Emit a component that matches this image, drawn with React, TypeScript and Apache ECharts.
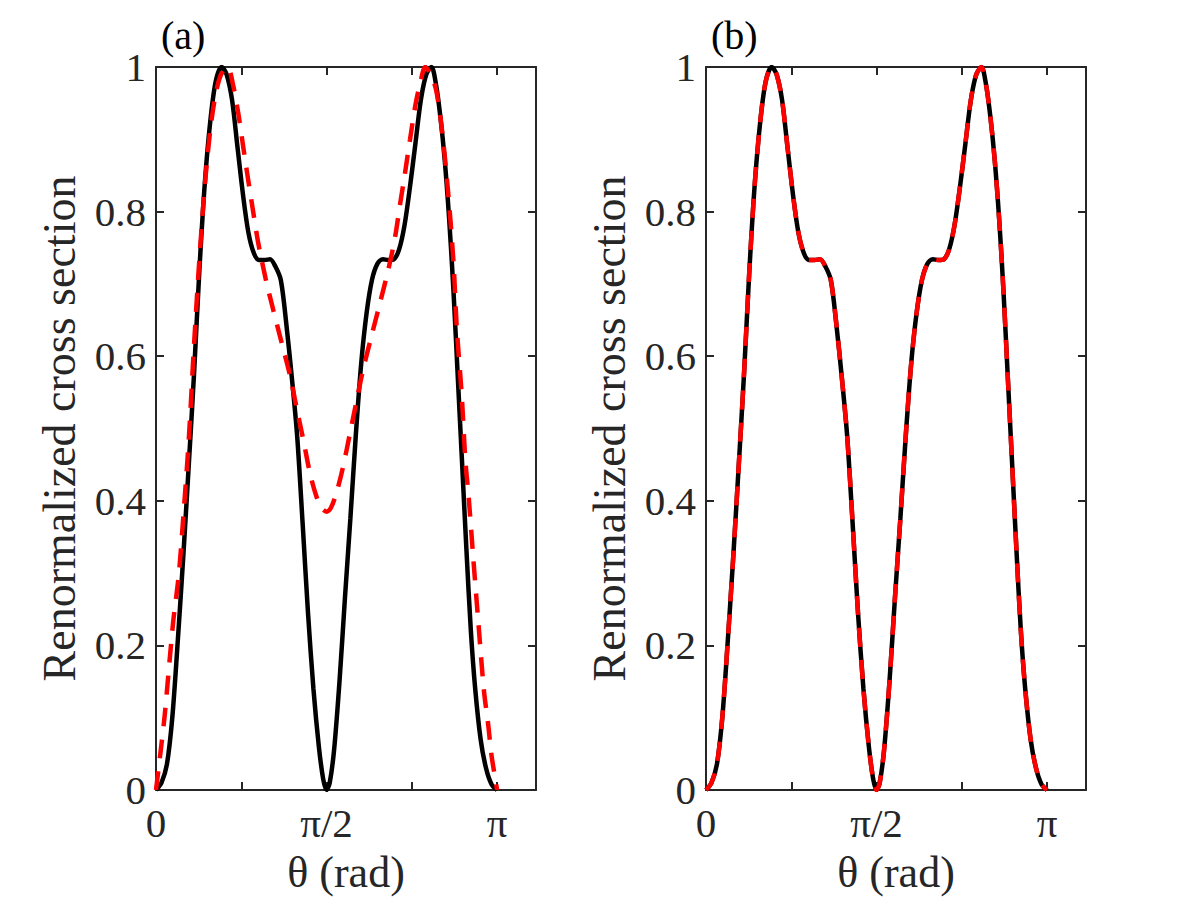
import React, { useEffect, useRef } from "react";
import * as echarts from "echarts";

// θ (rad) and renormalized cross section of the black solid curve (same in both panels)
const blackTheta = [0, 0.05, 0.10, 0.15, 0.20, 0.25, 0.30, 0.35, 0.40, 0.45, 0.50, 0.55, 0.605, 0.65, 0.70, 0.75, 0.80, 0.85, 0.90, 0.95, 1.00, 1.05, 1.10, 1.15, 1.20, 1.25, 1.30, 1.35, 1.40, 1.45, 1.50, 1.54, 1.571, 1.60, 1.64, 1.69, 1.74, 1.79, 1.84, 1.89, 1.94, 1.99, 2.04, 2.09, 2.14, 2.19, 2.24, 2.29, 2.34, 2.39, 2.44, 2.49, 2.537, 2.58, 2.62, 2.66, 2.70, 2.74, 2.78, 2.82, 2.86, 2.90, 2.94, 2.99, 3.04, 3.09, 3.1416];
const blackVal = [0, 0.01, 0.035, 0.10, 0.205, 0.32, 0.445, 0.575, 0.72, 0.84, 0.925, 0.98, 1.0, 0.99, 0.955, 0.89, 0.825, 0.772, 0.743, 0.733, 0.733, 0.734, 0.724, 0.705, 0.645, 0.572, 0.49, 0.37, 0.245, 0.14, 0.06, 0.015, 0, 0.01, 0.055, 0.15, 0.265, 0.375, 0.49, 0.59, 0.66, 0.706, 0.728, 0.734, 0.733, 0.734, 0.748, 0.782, 0.835, 0.895, 0.955, 0.99, 1.0, 0.975, 0.93, 0.87, 0.79, 0.69, 0.57, 0.45, 0.33, 0.22, 0.14, 0.07, 0.03, 0.008, 0];

// red dashed curve of panel (a)
const redATheta = [0, 0.02, 0.05, 0.08, 0.13, 0.16, 0.21, 0.25, 0.30, 0.35, 0.40, 0.45, 0.50, 0.55, 0.60, 0.66, 0.71, 0.76, 0.80, 0.85, 0.90, 0.94, 1.01, 1.08, 1.16, 1.23, 1.30, 1.36, 1.42, 1.48, 1.53, 1.571, 1.61, 1.66, 1.72, 1.79, 1.85, 1.91, 1.99, 2.06, 2.14, 2.20, 2.25, 2.29, 2.34, 2.39, 2.44, 2.48, 2.53, 2.58, 2.63, 2.69, 2.74, 2.77, 2.815, 2.85, 2.88, 2.92, 2.97, 3.02, 3.06, 3.09, 3.12, 3.1416];
const redAVal = [0, 0.025, 0.063, 0.103, 0.187, 0.235, 0.298, 0.375, 0.48, 0.615, 0.735, 0.837, 0.913, 0.963, 0.99, 1.0, 0.975, 0.934, 0.893, 0.843, 0.795, 0.758, 0.707, 0.664, 0.617, 0.576, 0.525, 0.482, 0.437, 0.405, 0.389, 0.385, 0.39, 0.41, 0.445, 0.496, 0.54, 0.583, 0.631, 0.672, 0.72, 0.763, 0.812, 0.85, 0.9, 0.948, 0.982, 1.0, 0.99, 0.968, 0.918, 0.828, 0.73, 0.64, 0.548, 0.455, 0.405, 0.325, 0.23, 0.138, 0.09, 0.048, 0.02, 0];

// red dashed curve of panel (b) coincides with the black curve
const redBTheta = blackTheta;
const redBVal = blackVal;

const xTickValues = [0, Math.PI / 4, Math.PI / 2, (3 * Math.PI) / 4, Math.PI];
const xLabelValues = [0, Math.PI / 2, Math.PI];
const xLabelTexts = ["0", "π/2", "π"];
const panelLabels = ["(a)", "(b)"];

const FONT = "Liberation Serif";
const AX = "#262626";

const pairs = (xs: number[], ys: number[]) => xs.map((x, i) => [x, ys[i]]);

export default function App() {
  const ref = useRef<HTMLDivElement>(null);
  useEffect(() => {
    if (!ref.current) return;
    const chart = echarts.init(ref.current, null, { renderer: "svg" });
    const lefts = [156, 706];
    const grids = lefts.map((l) => ({ left: l, top: 67, width: 380, height: 723, outerBoundsMode: "none" }));
    const xAxes: any[] = [];
    const yAxes: any[] = [];
    lefts.forEach((_, g) => {
      const common = {
        gridIndex: g,
        type: "value",
        min: 0,
        max: 3.5,
        splitLine: { show: false },
        axisLine: { show: true, onZero: false, lineStyle: { color: AX, width: 2 } },
      };
      xAxes.push({
        ...common,
        position: "bottom",
        name: "θ (rad)",
        nameLocation: "middle",
        nameGap: 60,
        nameTextStyle: { fontFamily: FONT, fontSize: 44, color: AX },
        axisTick: { show: true, inside: true, length: 8, customValues: xTickValues, lineStyle: { color: AX, width: 2 } },
        axisLabel: {
          show: true,
          margin: 12,
          customValues: xLabelValues,
          fontFamily: FONT,
          fontSize: 41,
          color: AX,
          formatter: (v: number) => {
            const i = xLabelValues.findIndex((t) => Math.abs(t - v) < 1e-6);
            return i >= 0 ? xLabelTexts[i] : "";
          },
        },
      });
      xAxes.push({
        ...common,
        position: "top",
        axisTick: { show: true, inside: true, length: 8, customValues: xTickValues, lineStyle: { color: AX, width: 2 } },
        axisLabel: { show: false },
      });
      const ycommon = {
        gridIndex: g,
        type: "value",
        min: 0,
        max: 1,
        interval: 0.2,
        splitLine: { show: false },
        axisLine: { show: true, onZero: false, lineStyle: { color: AX, width: 2 } },
        axisTick: { show: true, inside: true, length: 8, lineStyle: { color: AX, width: 2 } },
      };
      yAxes.push({
        ...ycommon,
        position: "left",
        name: "Renormalized cross section",
        nameLocation: "middle",
        nameGap: 74,
        nameTextStyle: { fontFamily: FONT, fontSize: 46, color: AX },
        axisLabel: { show: true, margin: 10, fontFamily: FONT, fontSize: 41, color: AX },
      });
      yAxes.push({
        ...ycommon,
        position: "right",
        axisLabel: { show: false },
      });
    });

    const line = (data: number[][], g: number, color: string, dashed: boolean) => ({
      type: "line",
      xAxisIndex: g * 2,
      yAxisIndex: g * 2,
      data,
      showSymbol: false,
      symbol: "none",
      smooth: 0.3,
      lineStyle: { color, width: 4.5, type: dashed ? [19, 13] : "solid", cap: "butt" },
      z: dashed ? 3 : 2,
    });

    chart.setOption({
      animation: false,
      backgroundColor: "#ffffff",
      grid: grids,
      xAxis: xAxes,
      yAxis: yAxes,
      series: [
        line(pairs(blackTheta, blackVal), 0, "#000000", false),
        line(pairs(redATheta, redAVal), 0, "#ff0000", true),
        line(pairs(blackTheta, blackVal), 1, "#000000", false),
        line(pairs(redBTheta, redBVal), 1, "#ff0000", true),
      ],
      graphic: panelLabels.map((t, i) => ({
        type: "text",
        left: lefts[i] + 5,
        top: 15,
        style: { text: t, fontFamily: FONT, fontSize: 40, fill: "#000000" },
      })),
    });
    return () => chart.dispose();
  }, []);
  return (
    <div
      ref={ref}
      style={{ position: "fixed", left: 0, top: 0, width: 1200, height: 900, background: "#fff" }}
    />
  );
}
